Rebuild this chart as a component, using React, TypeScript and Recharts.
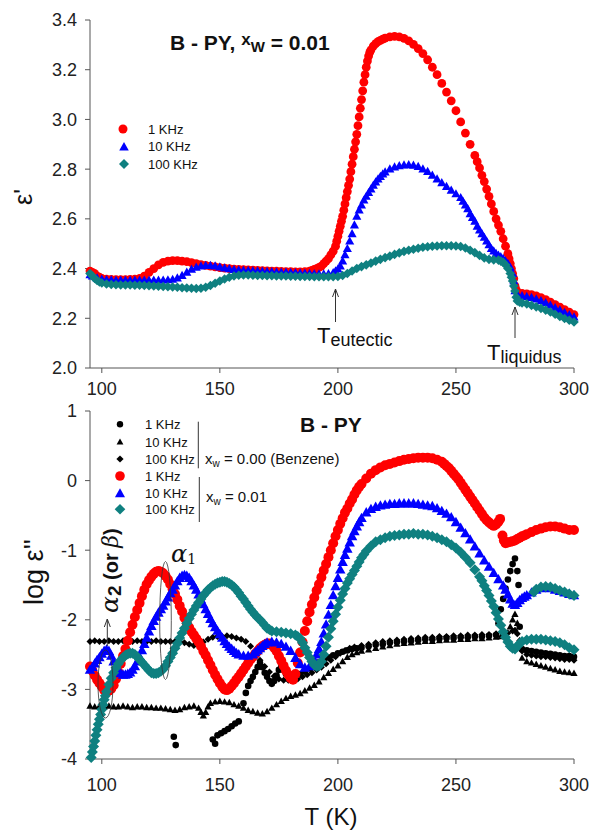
import React from "react";
import { ScatterChart, Scatter, XAxis, YAxis } from "recharts";

type Pt = [number, number];

const T_TICKS = [100, 150, 200, 250, 300];
const EPS_TICKS = [2.0, 2.2, 2.4, 2.6, 2.8, 3.0, 3.2, 3.4];
const LOG_TICKS = [-4, -3, -2, -1, 0, 1];

// top panel: eps' (x_w = 0.01)
const top1k: Pt[] = [
  [95, 2.39], [96, 2.385], [97, 2.38], [98, 2.37], [99, 2.365], [100, 2.36], [102, 2.357], [104, 2.356], [106, 2.355], [108, 2.355],
  [110, 2.355], [112, 2.356], [114, 2.357], [116, 2.36], [118, 2.37], [120, 2.385], [122, 2.4], [124, 2.415], [126, 2.425], [128, 2.43],
  [130, 2.432], [132, 2.432], [134, 2.43], [136, 2.428], [138, 2.424], [140, 2.42], [142, 2.416], [144, 2.413], [146, 2.41], [148, 2.407],
  [150, 2.404], [152, 2.402], [154, 2.4], [156, 2.398], [158, 2.397], [160, 2.396], [162, 2.395], [164, 2.394], [166, 2.393], [168, 2.392],
  [170, 2.391], [172, 2.39], [174, 2.39], [176, 2.389], [178, 2.388], [180, 2.388], [182, 2.387], [184, 2.387], [186, 2.388], [188, 2.39],
  [189, 2.393], [190, 2.397], [191, 2.4], [192, 2.405], [193, 2.41], [194, 2.42], [195, 2.43], [196, 2.44], [197, 2.455], [198, 2.47],
  [199, 2.49], [199.5, 2.51], [200, 2.53], [200.5, 2.55], [201, 2.57], [201.5, 2.59], [202, 2.61], [202.5, 2.635], [203, 2.66], [203.5, 2.685],
  [204, 2.71], [204.5, 2.735], [205, 2.76], [205.5, 2.79], [206, 2.82], [206.5, 2.85], [207, 2.88], [207.5, 2.91], [208, 2.94], [208.5, 2.975],
  [209, 3.01], [209.5, 3.045], [210, 3.08], [210.5, 3.115], [211, 3.15], [211.5, 3.18], [212, 3.21], [212.5, 3.235], [213, 3.255], [213.5, 3.27],
  [214, 3.28], [215, 3.295], [216, 3.305], [217, 3.313], [218, 3.318], [219, 3.323], [220, 3.327], [222, 3.332], [224, 3.334], [226, 3.332],
  [228, 3.326], [230, 3.316], [232, 3.302], [234, 3.285], [236, 3.265], [238, 3.24], [240, 3.21], [242, 3.18], [244, 3.145], [246, 3.11],
  [248, 3.075], [250, 3.035], [252, 2.99], [254, 2.945], [256, 2.9], [258, 2.855], [259, 2.83], [260, 2.805], [261, 2.775], [262, 2.75],
  [263, 2.72], [264, 2.69], [265, 2.66], [266, 2.63], [267, 2.6], [268, 2.575], [269, 2.55], [270, 2.52], [271, 2.49], [272, 2.46],
  [272.5, 2.44], [273, 2.42], [273.5, 2.4], [274, 2.38], [274.5, 2.36], [275, 2.33], [275.5, 2.315], [276, 2.305], [278, 2.3], [280, 2.298],
  [282, 2.295], [284, 2.29], [286, 2.283], [288, 2.275], [290, 2.265], [292, 2.255], [294, 2.245], [296, 2.235], [298, 2.225], [300, 2.215],
];

const top10k: Pt[] = [
  [95, 2.375], [96, 2.37], [98, 2.362], [100, 2.357], [102, 2.355], [104, 2.354], [106, 2.353], [108, 2.353], [110, 2.353], [112, 2.353],
  [114, 2.353], [116, 2.353], [118, 2.353], [120, 2.353], [122, 2.353], [124, 2.353], [126, 2.353], [128, 2.354], [130, 2.356], [132, 2.362],
  [134, 2.372], [136, 2.385], [138, 2.397], [140, 2.405], [142, 2.41], [144, 2.412], [146, 2.412], [148, 2.41], [150, 2.406], [152, 2.402],
  [154, 2.399], [156, 2.396], [158, 2.394], [160, 2.393], [162, 2.392], [164, 2.391], [166, 2.39], [168, 2.389], [170, 2.388], [172, 2.387],
  [174, 2.386], [176, 2.385], [178, 2.385], [180, 2.384], [182, 2.383], [184, 2.382], [186, 2.381], [188, 2.38], [190, 2.379], [192, 2.378],
  [194, 2.378], [196, 2.379], [198, 2.383], [199, 2.39], [200, 2.398], [201, 2.41], [202, 2.43], [203, 2.455], [204, 2.48], [205, 2.51],
  [206, 2.54], [207, 2.575], [208, 2.61], [209, 2.635], [210, 2.655], [211, 2.675], [212, 2.69], [213, 2.705], [214, 2.72], [215, 2.735],
  [216, 2.748], [217, 2.76], [218, 2.77], [219, 2.78], [220, 2.788], [222, 2.8], [224, 2.808], [226, 2.813], [228, 2.816], [230, 2.817],
  [232, 2.815], [234, 2.81], [236, 2.8], [238, 2.79], [240, 2.775], [242, 2.76], [244, 2.745], [246, 2.73], [248, 2.715], [250, 2.7],
  [252, 2.685], [253, 2.67], [254, 2.655], [255, 2.64], [256, 2.62], [257, 2.605], [258, 2.59], [259, 2.57], [260, 2.555], [261, 2.54],
  [262, 2.525], [263, 2.51], [264, 2.495], [265, 2.48], [266, 2.47], [267, 2.46], [268, 2.453], [269, 2.447], [270, 2.44], [271, 2.43],
  [272, 2.42], [273, 2.405], [274, 2.38], [274.5, 2.35], [275, 2.31], [276, 2.295], [278, 2.29], [280, 2.287], [282, 2.283], [284, 2.277],
  [286, 2.27], [288, 2.262], [290, 2.252], [292, 2.242], [294, 2.233], [296, 2.223], [298, 2.214], [300, 2.205],
];

const top100k: Pt[] = [
  [95, 2.38], [96, 2.37], [97, 2.36], [98, 2.352], [99, 2.346], [100, 2.342], [102, 2.338], [104, 2.336], [106, 2.335], [108, 2.334],
  [110, 2.334], [112, 2.334], [114, 2.333], [116, 2.333], [118, 2.332], [120, 2.331], [122, 2.33], [124, 2.329], [126, 2.328], [128, 2.327],
  [130, 2.326], [132, 2.325], [134, 2.323], [136, 2.322], [138, 2.321], [140, 2.32], [142, 2.321], [144, 2.325], [146, 2.332], [148, 2.341],
  [150, 2.35], [152, 2.358], [154, 2.365], [156, 2.37], [158, 2.373], [160, 2.374], [162, 2.374], [164, 2.373], [166, 2.372], [168, 2.372],
  [170, 2.371], [172, 2.371], [174, 2.37], [176, 2.37], [178, 2.37], [180, 2.369], [182, 2.369], [184, 2.368], [186, 2.368], [188, 2.368],
  [190, 2.367], [192, 2.367], [194, 2.367], [196, 2.367], [198, 2.367], [200, 2.368], [202, 2.372], [204, 2.38], [206, 2.39], [208, 2.4],
  [210, 2.408], [212, 2.415], [214, 2.422], [216, 2.43], [218, 2.437], [220, 2.444], [222, 2.45], [224, 2.457], [226, 2.463], [228, 2.469],
  [230, 2.474], [232, 2.478], [234, 2.482], [236, 2.486], [238, 2.488], [240, 2.49], [242, 2.491], [244, 2.492], [246, 2.492], [248, 2.492],
  [250, 2.491], [252, 2.489], [254, 2.483], [256, 2.474], [258, 2.464], [260, 2.453], [262, 2.443], [264, 2.437], [266, 2.435], [268, 2.434],
  [269, 2.43], [270, 2.425], [271, 2.415], [272, 2.4], [273, 2.38], [273.5, 2.365], [274, 2.35], [274.5, 2.33], [275, 2.31], [275.5, 2.285],
  [276, 2.27], [277, 2.265], [278, 2.262], [280, 2.258], [282, 2.252], [284, 2.246], [286, 2.24], [288, 2.233], [290, 2.225], [292, 2.216],
  [294, 2.207], [296, 2.199], [298, 2.192], [300, 2.185],
];

// bottom panel: log eps'' (x_w = 0.00, benzene)
const benz1k: Pt[] = [
  [130.5, -3.68], [131.3, -3.8], [147, -3.72], [148, -3.78], [149, -3.66], [150.5, -3.63], [152, -3.6], [153.5, -3.57], [155, -3.53], [156.5, -3.49],
  [158, -3.46], [160, -3.2], [161, -3.05], [162, -2.95], [163, -2.88], [164, -2.82], [165, -2.75], [166, -2.68], [167, -2.62], [168, -2.68],
  [169, -2.76], [170, -2.82], [171, -2.88], [172, -2.92], [173, -2.88], [174, -2.8], [175, -2.72], [176, -2.68], [177, -2.72], [178, -2.78],
  [179, -2.83], [180, -2.85], [182, -2.82], [184, -2.78], [186, -2.74], [188, -2.7], [190, -2.65], [192, -2.61], [194, -2.57], [196, -2.54],
  [198, -2.51], [200, -2.48], [202, -2.46], [204, -2.44], [206, -2.42], [208, -2.41], [210, -2.4], [213, -2.38], [216, -2.36], [219, -2.35],
  [222, -2.33], [225, -2.32], [228, -2.31], [231, -2.3], [234, -2.29], [237, -2.28], [240, -2.28], [243, -2.27], [246, -2.26], [249, -2.26],
  [252, -2.25], [255, -2.25], [258, -2.24], [261, -2.24], [264, -2.23], [267, -2.22], [268, -2.05], [269, -1.85], [270, -1.7], [271, -1.55],
  [272, -1.42], [273, -1.3], [274, -1.2], [275, -1.12], [276, -1.3], [276.5, -1.5], [277, -2.1], [278, -2.42], [280, -2.44], [282, -2.45],
  [284, -2.46], [286, -2.47], [288, -2.48], [290, -2.49], [292, -2.5], [294, -2.51], [296, -2.52], [298, -2.52], [300, -2.53],
];

const benz10k: Pt[] = [
  [95, -3.24], [97, -3.25], [99, -3.24], [101, -3.25], [103, -3.24], [105, -3.25], [107, -3.25], [109, -3.24], [111, -3.25], [113, -3.26],
  [115, -3.25], [117, -3.25], [119, -3.26], [121, -3.26], [123, -3.27], [125, -3.27], [127, -3.28], [129, -3.29], [131, -3.3], [133, -3.29],
  [135, -3.26], [137, -3.25], [139, -3.24], [141, -3.27], [142, -3.33], [143, -3.38], [144, -3.33], [145, -3.25], [146, -3.2], [148, -3.18],
  [150, -3.17], [152, -3.18], [154, -3.19], [156, -3.22], [158, -3.24], [160, -3.27], [162, -3.3], [164, -3.32], [166, -3.34], [168, -3.35],
  [170, -3.32], [172, -3.27], [174, -3.22], [176, -3.17], [178, -3.13], [180, -3.1], [182, -3.08], [184, -3.06], [186, -3.02], [188, -2.98],
  [190, -2.94], [192, -2.89], [194, -2.83], [196, -2.77], [198, -2.71], [200, -2.66], [202, -2.6], [204, -2.54], [206, -2.5], [208, -2.47],
  [210, -2.45], [213, -2.43], [216, -2.41], [219, -2.39], [222, -2.37], [225, -2.35], [228, -2.34], [231, -2.33], [234, -2.32], [237, -2.31],
  [240, -2.31], [243, -2.3], [246, -2.29], [249, -2.29], [252, -2.28], [255, -2.28], [258, -2.27], [261, -2.27], [264, -2.26], [267, -2.25],
  [269, -2.24], [271, -2.2], [273, -2.1], [274, -2.0], [275, -1.92], [276, -2.05], [277, -2.3], [278, -2.55], [280, -2.6], [282, -2.62],
  [284, -2.64], [286, -2.66], [288, -2.68], [290, -2.7], [292, -2.72], [294, -2.74], [296, -2.75], [298, -2.76], [300, -2.77],
];

const benz100k: Pt[] = [
  [95, -2.31], [97, -2.3], [99, -2.31], [101, -2.31], [103, -2.3], [105, -2.31], [107, -2.31], [109, -2.3], [111, -2.31], [113, -2.31],
  [115, -2.3], [117, -2.31], [119, -2.31], [121, -2.31], [123, -2.3], [125, -2.31], [127, -2.31], [129, -2.31], [131, -2.31], [133, -2.32],
  [135, -2.33], [137, -2.35], [139, -2.37], [141, -2.36], [143, -2.32], [145, -2.28], [147, -2.25], [149, -2.24], [151, -2.24], [153, -2.23],
  [155, -2.24], [157, -2.26], [159, -2.28], [161, -2.31], [163, -2.38], [165, -2.48], [167, -2.58], [169, -2.67], [171, -2.75], [173, -2.81],
  [175, -2.85], [177, -2.87], [179, -2.87], [181, -2.86], [183, -2.85], [185, -2.82], [187, -2.79], [189, -2.76], [191, -2.72], [193, -2.68],
  [195, -2.63], [197, -2.58], [199, -2.53], [201, -2.48], [203, -2.44], [205, -2.41], [207, -2.39], [210, -2.37], [213, -2.35], [216, -2.33],
  [219, -2.31], [222, -2.3], [225, -2.29], [228, -2.28], [231, -2.27], [234, -2.26], [237, -2.25], [240, -2.25], [243, -2.24], [246, -2.24],
  [249, -2.23], [252, -2.23], [255, -2.22], [258, -2.22], [261, -2.21], [264, -2.21], [267, -2.2], [270, -2.2], [272, -2.19], [274, -2.16],
  [275, -2.15], [276, -2.2], [277, -2.3], [278, -2.45], [280, -2.5], [282, -2.51], [284, -2.52], [286, -2.53], [288, -2.53], [290, -2.54],
  [292, -2.55], [294, -2.56], [296, -2.57], [298, -2.57], [300, -2.58],
];

// bottom panel: log eps'' (x_w = 0.01)
const bot1k: Pt[] = [
  [95, -2.67], [96, -2.73], [97, -2.8], [98, -2.86], [99, -2.91], [100, -2.96], [101, -3.01], [102, -3.03], [103, -3.02], [104, -2.99],
  [105, -2.94], [106, -2.85], [107, -2.75], [108, -2.63], [109, -2.52], [110, -2.42], [111, -2.3], [112, -2.18], [113, -2.07], [114, -1.96],
  [115, -1.86], [116, -1.76], [117, -1.66], [118, -1.57], [119, -1.49], [120, -1.43], [121, -1.38], [122, -1.34], [123, -1.31], [124, -1.3],
  [125, -1.31], [126, -1.33], [127, -1.37], [128, -1.42], [129, -1.49], [130, -1.56], [131, -1.63], [132, -1.71], [133, -1.8], [134, -1.88],
  [135, -1.97], [136, -2.05], [137, -2.11], [138, -2.17], [139, -2.22], [140, -2.27], [141, -2.32], [142, -2.38], [143, -2.45], [144, -2.51],
  [145, -2.58], [146, -2.65], [147, -2.72], [148, -2.79], [149, -2.85], [150, -2.91], [151, -2.96], [152, -3.0], [153, -3.01], [154, -2.99],
  [155, -2.95], [156, -2.91], [157, -2.86], [158, -2.82], [159, -2.77], [160, -2.72], [161, -2.67], [162, -2.62], [163, -2.57], [164, -2.53],
  [165, -2.49], [166, -2.45], [167, -2.41], [168, -2.38], [169, -2.36], [170, -2.34], [171, -2.34], [172, -2.36], [173, -2.4], [174, -2.45],
  [175, -2.52], [176, -2.59], [177, -2.66], [178, -2.73], [179, -2.79], [180, -2.84], [181, -2.86], [182, -2.78], [183, -2.62], [184, -2.47],
  [185, -2.32], [186, -2.16], [187, -2.02], [188, -1.89], [189, -1.78], [190, -1.68], [191, -1.58], [192, -1.49], [193, -1.39], [194, -1.29],
  [195, -1.2], [196, -1.1], [197, -1.0], [198, -0.9], [199, -0.8], [200, -0.71], [201, -0.62], [202, -0.54], [203, -0.46], [204, -0.4],
  [205, -0.33], [206, -0.27], [207, -0.2], [208, -0.14], [209, -0.09], [210, -0.05], [212, 0.03], [214, 0.1], [216, 0.15], [218, 0.19],
  [220, 0.22], [222, 0.24], [224, 0.26], [226, 0.28], [228, 0.3], [230, 0.31], [232, 0.32], [234, 0.33], [236, 0.33], [238, 0.33],
  [240, 0.32], [242, 0.3], [244, 0.27], [245, 0.24], [246, 0.21], [247, 0.18], [248, 0.14], [249, 0.1], [250, 0.06], [251, 0.02],
  [252, -0.03], [253, -0.08], [254, -0.13], [255, -0.18], [256, -0.23], [257, -0.28], [258, -0.33], [259, -0.38], [260, -0.43], [261, -0.48],
  [262, -0.53], [263, -0.57], [264, -0.6], [265, -0.63], [266, -0.65], [267, -0.63], [268, -0.59], [268.7, -0.55], [269.7, -0.79], [270.3, -0.86],
  [271, -0.9], [272, -0.89], [273, -0.88], [274, -0.87], [275, -0.86], [276, -0.84], [277, -0.82], [278, -0.8], [279, -0.79], [280, -0.77],
  [282, -0.74], [284, -0.71], [286, -0.69], [288, -0.67], [290, -0.66], [292, -0.66], [294, -0.67], [296, -0.69], [298, -0.71], [300, -0.71],
];

const bot10k: Pt[] = [
  [95, -2.72], [96, -2.68], [97, -2.63], [98, -2.58], [99, -2.54], [100, -2.49], [101, -2.45], [102, -2.43], [103, -2.45], [104, -2.52],
  [105, -2.6], [106, -2.68], [107, -2.74], [108, -2.77], [109, -2.79], [110, -2.79], [111, -2.78], [112, -2.76], [113, -2.72], [114, -2.67],
  [115, -2.6], [116, -2.53], [117, -2.44], [118, -2.35], [119, -2.26], [120, -2.17], [121, -2.09], [122, -2.02], [123, -1.96], [124, -1.9],
  [125, -1.85], [126, -1.8], [127, -1.74], [128, -1.68], [129, -1.62], [130, -1.57], [131, -1.51], [132, -1.45], [133, -1.4], [134, -1.37],
  [135, -1.36], [136, -1.37], [137, -1.4], [138, -1.45], [139, -1.51], [140, -1.57], [141, -1.64], [142, -1.71], [143, -1.78], [144, -1.85],
  [145, -1.92], [146, -1.99], [147, -2.05], [148, -2.11], [149, -2.16], [150, -2.21], [151, -2.26], [152, -2.31], [153, -2.35], [154, -2.39],
  [155, -2.42], [156, -2.45], [157, -2.48], [158, -2.5], [160, -2.52], [162, -2.52], [164, -2.5], [165, -2.47], [166, -2.44], [167, -2.41],
  [168, -2.38], [169, -2.35], [170, -2.33], [172, -2.32], [174, -2.33], [176, -2.35], [178, -2.39], [180, -2.45], [182, -2.55], [184, -2.64],
  [186, -2.69], [188, -2.67], [190, -2.58], [191, -2.5], [192, -2.42], [193, -2.32], [194, -2.2], [195, -2.07], [196, -1.93], [197, -1.79],
  [198, -1.65], [199, -1.52], [200, -1.4], [201, -1.28], [202, -1.17], [203, -1.07], [204, -0.98], [205, -0.89], [206, -0.8], [207, -0.73],
  [208, -0.66], [209, -0.6], [210, -0.54], [212, -0.46], [214, -0.41], [216, -0.38], [218, -0.36], [220, -0.35], [222, -0.34], [224, -0.34],
  [226, -0.33], [228, -0.33], [230, -0.33], [232, -0.33], [234, -0.34], [236, -0.35], [238, -0.36], [240, -0.37], [242, -0.4], [244, -0.44],
  [246, -0.48], [248, -0.53], [250, -0.6], [252, -0.68], [254, -0.76], [256, -0.85], [258, -0.95], [260, -1.05], [262, -1.15], [264, -1.24],
  [266, -1.33], [268, -1.42], [270, -1.51], [271, -1.57], [272, -1.64], [273, -1.71], [274, -1.77], [275, -1.79], [276, -1.76], [277, -1.72],
  [278, -1.69], [279, -1.67], [280, -1.65], [282, -1.61], [284, -1.57], [286, -1.55], [288, -1.54], [290, -1.55], [292, -1.57], [294, -1.59],
  [296, -1.61], [298, -1.63], [300, -1.65],
];

const bot100k: Pt[] = [
  [95.5, -3.98], [96, -3.9], [96.5, -3.82], [97, -3.74], [97.5, -3.66], [98, -3.58], [98.5, -3.5], [99, -3.43], [99.5, -3.36], [100, -3.29],
  [100.5, -3.22], [101, -3.15], [101.5, -3.09], [102, -3.03], [103, -2.93], [104, -2.84], [105, -2.76], [106, -2.69], [107, -2.63], [108, -2.58],
  [109, -2.54], [110, -2.51], [111, -2.49], [112, -2.48], [113, -2.48], [114, -2.5], [115, -2.53], [116, -2.57], [117, -2.61], [118, -2.65],
  [119, -2.69], [120, -2.73], [121, -2.76], [122, -2.77], [123, -2.77], [124, -2.76], [125, -2.74], [126, -2.71], [127, -2.66], [128, -2.6],
  [129, -2.54], [130, -2.48], [131, -2.41], [132, -2.34], [133, -2.26], [134, -2.19], [135, -2.12], [136, -2.05], [137, -1.98], [138, -1.92],
  [139, -1.86], [140, -1.8], [141, -1.75], [142, -1.7], [143, -1.65], [144, -1.61], [145, -1.57], [146, -1.54], [147, -1.51], [148, -1.49],
  [149, -1.47], [150, -1.46], [151, -1.45], [152, -1.45], [153, -1.46], [154, -1.48], [155, -1.5], [156, -1.53], [157, -1.57], [158, -1.61],
  [159, -1.66], [160, -1.7], [161, -1.75], [162, -1.8], [163, -1.85], [164, -1.89], [165, -1.93], [166, -1.97], [167, -2.0], [168, -2.04],
  [169, -2.08], [170, -2.12], [171, -2.14], [172, -2.16], [174, -2.17], [176, -2.18], [178, -2.19], [180, -2.2], [182, -2.22], [183, -2.24],
  [184, -2.27], [185, -2.33], [186, -2.4], [187, -2.47], [188, -2.54], [189, -2.6], [190, -2.65], [191, -2.67], [192, -2.66], [193, -2.6],
  [194, -2.5], [195, -2.38], [196, -2.25], [197, -2.13], [198, -2.02], [199, -1.92], [200, -1.82], [201, -1.72], [202, -1.63], [203, -1.55],
  [204, -1.47], [205, -1.41], [206, -1.35], [207, -1.29], [208, -1.23], [209, -1.17], [210, -1.11], [211, -1.06], [212, -1.01], [214, -0.94],
  [216, -0.88], [218, -0.85], [220, -0.82], [222, -0.8], [224, -0.79], [226, -0.78], [228, -0.77], [230, -0.77], [232, -0.76], [234, -0.77],
  [236, -0.77], [238, -0.78], [240, -0.8], [242, -0.82], [244, -0.85], [246, -0.88], [248, -0.92], [250, -0.97], [252, -1.03], [254, -1.1],
  [256, -1.18], [258, -1.28], [260, -1.38], [261, -1.44], [262, -1.51], [263, -1.58], [264, -1.65], [265, -1.73], [266, -1.81], [267, -1.9],
  [268, -1.99], [269, -2.08], [270, -2.17], [271, -2.25], [272, -2.32], [273, -2.38], [274, -2.41], [275, -2.42], [276, -2.38], [277, -2.34],
  [278, -2.31], [280, -2.29], [282, -2.28], [284, -2.28], [286, -2.28], [288, -2.29], [290, -2.3], [292, -2.31], [294, -2.33], [296, -2.36],
  [298, -2.4], [300, -2.43],
];

const bot100kHigh: Pt[] = [
  [283, -1.6], [284, -1.56], [286, -1.53], [288, -1.52], [290, -1.53], [292, -1.55], [294, -1.58], [296, -1.6], [298, -1.63], [300, -1.65],
];

const RED = "#ff0000";
const BLUE = "#0000ff";
const TEAL = "#0f8080";
const AX = "#555";
const SANS = "'Liberation Sans', Arial, Helvetica, sans-serif";
const SERIF = "'DejaVu Serif', 'Liberation Serif', serif";

const toXY = (pts: Pt[]) => pts.map(([x, y]) => ({ x, y }));

type Kind = "circle" | "triangle" | "diamond";

function marker(kind: Kind, r: number, fill: string) {
  return (props: any) => {
    const { cx, cy } = props;
    if (cx == null || cy == null) return <g />;
    if (kind === "circle") return <circle cx={cx} cy={cy} r={r} fill={fill} />;
    if (kind === "triangle")
      return (
        <polygon
          points={`${cx},${cy - r} ${cx + r * 0.95},${cy + r * 0.7} ${cx - r * 0.95},${cy + r * 0.7}`}
          fill={fill}
        />
      );
    return <polygon points={`${cx},${cy - r} ${cx + r},${cy} ${cx},${cy + r} ${cx - r},${cy}`} fill={fill} />;
  };
}

function Mark({ kind, x, y, r, fill }: { kind: Kind; x: number; y: number; r: number; fill: string }) {
  return marker(kind, r, fill)({ cx: x, cy: y });
}

function Arrow({ x, y1, y2 }: { x: number; y1: number; y2: number }) {
  return (
    <g stroke="#333" strokeWidth={1} fill="none">
      <line x1={x} y1={y1} x2={x} y2={y2} />
      <polyline points={`${x - 3},${y2 + 8} ${x},${y2} ${x + 3},${y2 + 8}`} />
    </g>
  );
}

const tickStyle = { fill: "#222", fontSize: 18, fontFamily: SANS };

function TopChart() {
  return (
    <ScatterChart width={591} height={400} margin={{ top: 20, right: 17, bottom: 2, left: 0 }}>
      <XAxis xAxisId="b" type="number" dataKey="x" domain={[95, 300]} ticks={T_TICKS} tick={tickStyle}
        tickSize={5} tickMargin={9} stroke={AX} height={30} />
      <XAxis xAxisId="t" orientation="top" type="number" domain={[95, 300]} tick={false} tickLine={false}
        height={0} stroke={AX} />
      <YAxis yAxisId="l" type="number" dataKey="y" domain={[2, 3.4]} ticks={EPS_TICKS}
        tickFormatter={(v: number) => v.toFixed(1)} tick={tickStyle} tickSize={5} tickMargin={8} width={90} stroke={AX} />
      <YAxis yAxisId="r" orientation="right" type="number" domain={[2, 3.4]} tick={false} tickLine={false}
        width={0} stroke={AX} />
      <Scatter xAxisId="b" yAxisId="l" data={toXY(top1k)} shape={marker("circle", 4.4, RED)} isAnimationActive={false} />
      <Scatter xAxisId="b" yAxisId="l" data={toXY(top10k)} shape={marker("triangle", 4.8, BLUE)} isAnimationActive={false} />
      <Scatter xAxisId="b" yAxisId="l" data={toXY(top100k)} shape={marker("diamond", 4.8, TEAL)} isAnimationActive={false} />
    </ScatterChart>
  );
}

function BottomChart() {
  return (
    <ScatterChart width={591} height={432} margin={{ top: 11, right: 17, bottom: 43, left: 0 }}>
      <XAxis xAxisId="b" type="number" dataKey="x" domain={[95, 300]} ticks={T_TICKS} tick={tickStyle}
        tickSize={5} tickMargin={14} stroke={AX} height={30} />
      <XAxis xAxisId="t" orientation="top" type="number" domain={[95, 300]} tick={false} tickLine={false}
        height={0} stroke={AX} />
      <YAxis yAxisId="l" type="number" dataKey="y" domain={[-4, 1]} ticks={LOG_TICKS} tick={tickStyle}
        tickSize={5} tickMargin={8} width={90} stroke={AX} />
      <YAxis yAxisId="r" orientation="right" type="number" domain={[-4, 1]} tick={false} tickLine={false}
        width={0} stroke={AX} />
      <Scatter xAxisId="b" yAxisId="l" data={toXY(benz1k)} shape={marker("circle", 3.3, "#000")} isAnimationActive={false} />
      <Scatter xAxisId="b" yAxisId="l" data={toXY(benz10k)} shape={marker("triangle", 3.8, "#000")} isAnimationActive={false} />
      <Scatter xAxisId="b" yAxisId="l" data={toXY(benz100k)} shape={marker("diamond", 3.5, "#000")} isAnimationActive={false} />
      <Scatter xAxisId="b" yAxisId="l" data={toXY(bot1k)} shape={marker("circle", 5, RED)} isAnimationActive={false} />
      <Scatter xAxisId="b" yAxisId="l" data={toXY(bot10k)} shape={marker("triangle", 5.5, BLUE)} isAnimationActive={false} />
      <Scatter xAxisId="b" yAxisId="l" data={toXY(bot100k)} shape={marker("diamond", 5.5, TEAL)} isAnimationActive={false} />
      <Scatter xAxisId="b" yAxisId="l" data={toXY(bot100kHigh)} shape={marker("diamond", 5.5, TEAL)} isAnimationActive={false} />
    </ScatterChart>
  );
}

function Overlay() {
  const lbl = { fontFamily: SANS, fill: "#111" };
  return (
    <svg width={591} height={832} style={{ position: "absolute", left: 0, top: 0, pointerEvents: "none" }}>
      {/* top panel */}
      <text transform="translate(32,197) rotate(-90)" textAnchor="middle" fontSize={25} {...lbl}>ε'</text>
      <text x={170} y={50} fontSize={21} fontWeight="bold" {...lbl}>
        B - PY, <tspan fontSize={17} dy={-5}>x</tspan>
        <tspan fontSize={15} dy={7}>W</tspan>
        <tspan dy={-2}> = 0.01</tspan>
      </text>
      <Mark kind="circle" x={123} y={129} r={4.5} fill={RED} />
      <Mark kind="triangle" x={124} y={147} r={5} fill={BLUE} />
      <Mark kind="diamond" x={124} y={164} r={5} fill={TEAL} />
      <text x={148} y={134} fontSize={13} {...lbl}>1 KHz</text>
      <text x={148} y={151} fontSize={13} {...lbl}>10 KHz</text>
      <text x={148} y={169} fontSize={13} {...lbl}>100 KHz</text>
      <Arrow x={335.5} y1={322} y2={289} />
      <text x={317} y={343} fontSize={22} {...lbl}>
        T<tspan fontSize={18} dy={3}>eutectic</tspan>
      </text>
      <Arrow x={515} y1={338} y2={307} />
      <text x={487} y={360} fontSize={22} {...lbl}>
        T<tspan fontSize={18} dy={3}>liquidus</tspan>
      </text>

      {/* bottom panel */}
      <text transform="translate(43,572) rotate(-90)" textAnchor="middle" fontSize={27} {...lbl}>log ε''</text>
      <text x={300} y={432} fontSize={21} fontWeight="bold" {...lbl}>B - PY</text>
      <Mark kind="circle" x={120} y={424.3} r={3.2} fill="#000" />
      <Mark kind="triangle" x={120} y={442} r={3.6} fill="#000" />
      <Mark kind="diamond" x={120} y={459} r={3.6} fill="#000" />
      <Mark kind="circle" x={120} y={476} r={4.8} fill={RED} />
      <Mark kind="triangle" x={120} y={493.5} r={5.3} fill={BLUE} />
      <Mark kind="diamond" x={120} y={509.3} r={5.3} fill={TEAL} />
      {["1 KHz", "10 KHz", "100 KHz", "1 KHz", "10 KHz", "100 KHz"].map((s, i) => (
        <text key={i} x={145} y={[429.3, 446.7, 464, 481, 497.7, 514.3][i]} fontSize={13} {...lbl}>{s}</text>
      ))}
      <line x1={198.3} y1={421.7} x2={198.3} y2={468.3} stroke="#333" strokeWidth={1} />
      <line x1={199.3} y1={477} x2={199.3} y2={522} stroke="#333" strokeWidth={1} />
      <text x={205} y={463.5} fontSize={15} {...lbl}>
        x<tspan fontSize={10} dy={3}>w</tspan><tspan dy={-3}> = 0.00 (Benzene)</tspan>
      </text>
      <text x={206} y={502} fontSize={15} {...lbl}>
        x<tspan fontSize={10} dy={3}>w</tspan><tspan dy={-3}> = 0.01</tspan>
      </text>
      <ellipse cx={165.5} cy={620.5} rx={5.8} ry={59} fill="none" stroke="#333" strokeWidth={0.8} />
      <ellipse cx={105.5} cy={684} rx={7.5} ry={34} fill="none" stroke="#333" strokeWidth={0.8} />
      <Arrow x={107.3} y1={646} y2={619} />
      <text x={171} y={561.5} fontSize={24} fontFamily={SERIF} fontStyle="italic" fill="#111">
        α<tspan fontSize={14} fontStyle="normal" dy={2}>1</tspan>
      </text>
      <text transform="translate(118,613) rotate(-90)" fontSize={20} fill="#111" fontFamily={SANS} fontWeight="bold">
        <tspan fontFamily={SERIF} fontStyle="italic" fontWeight="normal" fontSize={25}>α</tspan>
        <tspan fontSize={19} dy={3}>2</tspan>
        <tspan dy={-3}> (or </tspan>
        <tspan fontFamily={SERIF} fontStyle="italic" fontWeight="normal" fontSize={22}>β</tspan>
        <tspan>)</tspan>
      </text>
      <text x={331} y={825} textAnchor="middle" fontSize={24} {...lbl}>T (K)</text>
    </svg>
  );
}

export default function App() {
  return (
    <div style={{ position: "absolute", left: 0, top: 0, width: 591, height: 832, background: "#fff" }}>
      <div style={{ position: "absolute", left: 0, top: 0 }}>
        <TopChart />
      </div>
      <div style={{ position: "absolute", left: 0, top: 400 }}>
        <BottomChart />
      </div>
      <Overlay />
    </div>
  );
}
